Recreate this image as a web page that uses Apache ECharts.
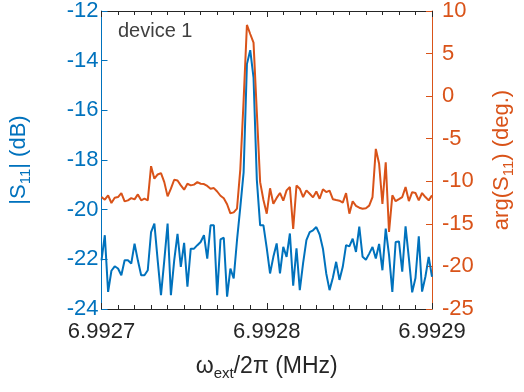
<!DOCTYPE html>
<html>
<head>
<meta charset="utf-8">
<title>S11 device 1</title>
<script src="https://cdn.jsdelivr.net/npm/echarts@6/dist/echarts.min.js"></script>
<style>
  html, body { margin: 0; padding: 0; background: #fff; }
  #main { width: 524px; height: 392px; }
</style>
</head>
<body>
<div id="main"></div>
<script>
// frequency sweep: start and step (MHz), 101 points
var fStart = 6.9927;
var fStep = 0.000002;

// |S11| in dB
var magS11 = [
  -22.04, -21.03, -23.31, -22.46, -22.28, -22.37, -22.64, -22.04, -22.04, -22.17,
  -21.37, -22.04, -22.64, -22.64, -22.44, -20.90, -20.56, -22.04, -23.44, -22.04,
  -20.56, -23.44, -22.04, -20.97, -22.30, -21.34, -23.10, -21.57, -21.57, -21.43,
  -21.30, -21.03, -21.97, -20.63, -20.63, -23.44, -21.20, -21.13, -23.50, -22.37,
  -22.77, -21.23, -19.90, -18.50, -14.14, -13.58, -14.68, -18.80, -20.63, -20.63,
  -21.55, -22.57, -21.90, -21.36, -22.57, -21.50, -21.90, -20.96, -23.06, -21.56,
  -23.24, -22.15, -21.23, -20.90, -20.83, -20.70, -21.00, -21.57, -22.57, -23.24,
  -22.74, -22.10, -22.83, -22.30, -21.43, -21.48, -21.17, -21.70, -20.68, -21.90,
  -22.02, -21.77, -21.50, -21.97, -21.38, -22.44, -20.76, -21.83, -23.31, -21.30,
  -21.28, -22.50, -20.67, -21.95, -23.33, -22.75, -21.07, -23.30, -22.70, -21.90,
  -22.70
];

// arg(S11) in degrees
var argS11 = [
  -11.85, -12.16, -11.66, -12.55, -11.93, -11.85, -11.39, -12.36, -12.24, -11.97,
  -12.12, -11.54, -12.24, -12.04, -12.24, -8.22, -9.70, -9.20, -9.04, -10.10,
  -11.77, -10.87, -9.82, -9.90, -10.48, -10.99, -10.29, -10.48, -10.39, -10.10,
  -10.29, -10.33, -10.55, -10.88, -10.80, -11.20, -11.70, -12.00, -12.70, -13.76,
  -13.65, -13.20, -8.60, -0.50, 8.36, 7.30, 6.29, -1.90, -10.10, -12.20,
  -13.80, -10.82, -12.63, -11.95, -11.37, -12.28, -11.07, -10.68, -15.60, -10.49,
  -10.87, -11.85, -11.07, -11.46, -11.89, -11.20, -12.05, -10.93, -11.27, -11.10,
  -12.10, -12.20, -12.28, -12.50, -11.40, -13.80, -12.34, -12.88, -13.10, -13.22,
  -13.16, -12.86, -11.85, -6.20, -7.95, -12.67, -7.76, -15.95, -11.65, -12.34,
  -12.10, -11.85, -10.68, -12.32, -11.27, -11.38, -12.24, -11.38, -11.85, -12.24,
  -11.66
];

var xTicks = [6.9927, 6.9928, 6.9929];

var blue = '#0072BD';
var orange = '#D95319';
var dark = '#262626';
var font = 'Liberation Sans, Arial, Helvetica, sans-serif';

function pairs(arr) {
  return arr.map(function (v, i) { return [fStart + i * fStep, v]; });
}

var chart = echarts.init(document.getElementById('main'), null, { renderer: 'canvas' });

var xCommon = {
  type: 'value',
  min: xTicks[0],
  max: xTicks[xTicks.length - 1],
  interval: 0.0001,
  splitLine: { show: false },
  axisLine: { onZero: false, lineStyle: { color: dark, width: 1 } },
  axisTick: { inside: true, length: 6, lineStyle: { color: dark } },
  minorTick: { show: true, splitNumber: 10, length: 4, lineStyle: { color: dark } }
};

var option = {
  animation: false,
  textStyle: { fontFamily: font },
  grid: { left: 101, right: 84, top: 10, bottom: 83, containLabel: false },
  graphic: [{
    type: 'text',
    left: 118,
    top: 21,
    style: { text: 'device 1', fill: '#404040', font: '20px ' + font }
  }],
  xAxis: [
    Object.assign({}, xCommon, {
      position: 'bottom',
      axisLabel: {
        color: dark, fontSize: 22, margin: 12,
        formatter: function (v) { return v.toFixed(4); }
      },
      name: '{a|ω}{s|ext}{a|/2π (MHz)}',
      nameLocation: 'middle',
      nameGap: 43,
      nameTextStyle: {
        rich: {
          a: { fontSize: 23, color: dark, fontFamily: font },
          s: { fontSize: 15, color: dark, fontFamily: font, padding: [14, 0, 0, 0] }
        }
      }
    }),
    Object.assign({}, xCommon, {
      position: 'top',
      axisLabel: { show: false }
    })
  ],
  yAxis: [
    {
      type: 'value',
      position: 'left',
      min: -24, max: -12, interval: 2,
      splitLine: { show: false },
      axisLine: { show: true, onZero: false, lineStyle: { color: blue, width: 1 } },
      axisTick: { show: true, inside: true, length: 6, lineStyle: { color: blue } },
      axisLabel: { color: blue, fontSize: 22, margin: 3 },
      name: '{a||S}{s|11}{a|| (dB)}',
      nameLocation: 'middle',
      nameRotate: 90,
      nameGap: 68,
      nameTextStyle: {
        rich: {
          a: { fontSize: 22, color: blue, fontFamily: font },
          s: { fontSize: 15, color: blue, fontFamily: font, padding: [14, 0, 0, 0] }
        }
      }
    },
    {
      type: 'value',
      position: 'right',
      min: -25, max: 10, interval: 5,
      splitLine: { show: false },
      axisLine: { show: true, onZero: false, lineStyle: { color: orange, width: 1 } },
      axisTick: { show: true, inside: true, length: 6, lineStyle: { color: orange } },
      axisLabel: { color: orange, fontSize: 22, margin: 10 },
      name: '{a|arg(S}{s|11}{a|) (deg.)}',
      nameLocation: 'middle',
      nameRotate: 90,
      nameGap: 55,
      nameTextStyle: {
        rich: {
          a: { fontSize: 22, color: orange, fontFamily: font },
          s: { fontSize: 15, color: orange, fontFamily: font, padding: [14, 0, 0, 0] }
        }
      }
    }
  ],
  series: [
    {
      name: '|S11|',
      type: 'line',
      xAxisIndex: 0,
      yAxisIndex: 0,
      data: pairs(magS11),
      showSymbol: false,
      lineStyle: { color: blue, width: 2 },
      itemStyle: { color: blue }
    },
    {
      name: 'arg(S11)',
      type: 'line',
      xAxisIndex: 0,
      yAxisIndex: 1,
      data: pairs(argS11),
      showSymbol: false,
      lineStyle: { color: orange, width: 2 },
      itemStyle: { color: orange }
    }
  ]
};

chart.setOption(option);
</script>
</body>
</html>
